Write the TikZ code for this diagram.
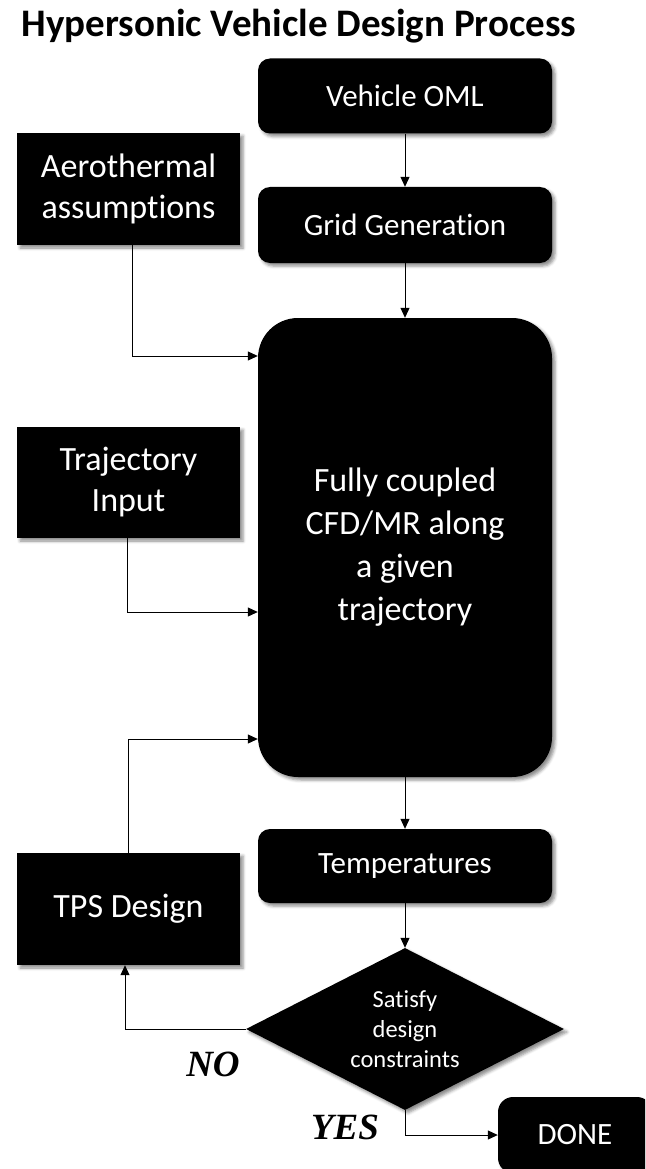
\documentclass[tikz,border=0pt]{standalone}
\usepackage{fontspec}
\setmainfont{Carlito}[RawFeature={-liga}]
\newfontfamily\serifbi{Liberation Serif}
\usetikzlibrary{shapes.geometric,arrows.meta,shadows.blur}
\tikzset{
  blk/.style={fill=black, text=white, inner sep=0pt, align=center,
    blur shadow={shadow xshift=3pt,shadow yshift=-3pt,shadow blur radius=3pt,shadow opacity=45}},
  rbox/.style={blk, rounded corners=12pt, minimum width=294pt, minimum height=75pt,
    font=\fontsize{31}{37}\selectfont},
  sbox/.style={blk, minimum width=223pt, minimum height=112pt,
    font=\fontsize{34}{41}\selectfont},
  conn/.style={draw=black, line width=1pt, -{Triangle[length=10pt,width=9pt]}},
  lbl/.style={font=\serifbi\bfseries\itshape\fontsize{37}{40}\selectfont, inner sep=0pt},
  ttl/.style={font=\bfseries\fontsize{39}{45}\selectfont, inner sep=0pt, anchor=base}
}
\begin{document}
\begin{tikzpicture}[x=1pt,y=-1pt]
\useasboundingbox (0,0) rectangle (645,1169);
\clip (0,0) rectangle (645,1169);
% title
\node (title)[ttl] at (299,37) {Hypersonic Vehicle Design Process};
% boxes
\node (oml)[rbox] at (405,96) {Vehicle OML};
\node (grid)[rbox, minimum height=76pt] at (405,225) {Grid Generation};
\node (aero)[sbox] at (128.5,189) {Aerothermal\\assumptions};
\node (big)[blk, rounded corners=40pt, minimum width=294pt, minimum height=459pt,
  font=\fontsize{34}{43}\selectfont] at (405,547.5) {Fully coupled\\CFD/MR along\\a given\\trajectory};
\node (traj)[sbox, minimum height=111pt] at (128.5,482.5) {Trajectory\\Input};
\node (temp)[rbox, minimum height=74pt] at (405,866) {Temperatures};
\node (tps)[sbox] at (128.5,909) {TPS Design};
\node (dec)[blk, diamond, aspect=1.963, minimum width=318pt, minimum height=162pt,
  font=\fontsize{24.5}{30}\selectfont] at (405,1029) {Satisfy\\design\\constraints};
\node (done)[blk, rounded corners=15pt, minimum width=154pt, minimum height=76pt,
  font=\fontsize{31}{37}\selectfont] at (575,1135) {DONE};
% connectors
\draw[conn] (oml) -- (grid);
\draw[conn] (grid) -- (big);
\draw[conn] ([xshift=3.5pt]aero.south) |- (big.west |- 0,356);
\draw[conn] ([xshift=-1.5pt]traj.south) |- (big.west |- 0,612);
\draw[conn] (tps.north) |- (big.west |- 0,739);
\draw[conn] (big) -- (temp);
\draw[conn] (temp) -- (dec);
\draw[conn] (dec.west) -| ([xshift=-3.5pt]tps.south);
\draw[conn] (dec.south) |- (done.west);
% labels
\node (no)[lbl] at (213,1064) {NO};
\node (yes)[lbl] at (345,1127) {YES};
\end{tikzpicture}
\end{document}
